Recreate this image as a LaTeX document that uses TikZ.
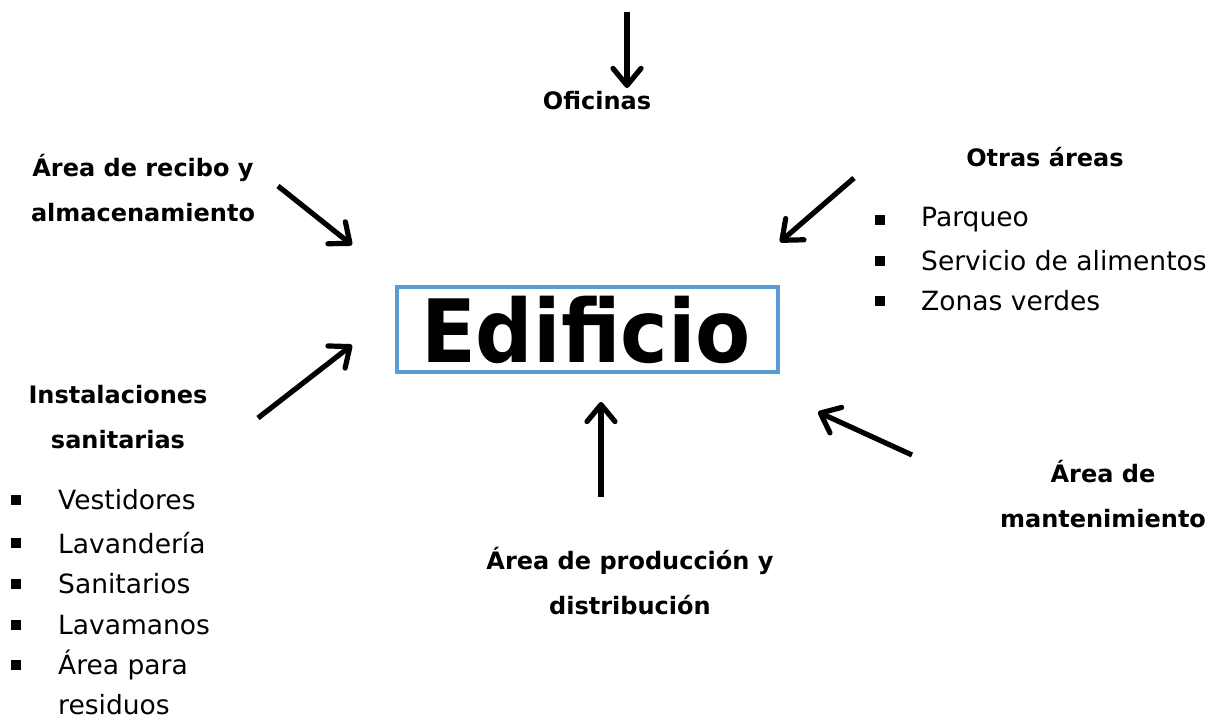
\documentclass[tikz,border=0pt]{standalone}
\usepackage{fontspec}
\setmainfont{DejaVu Sans}
\usetikzlibrary{arrows.meta}
\definecolor{boxblue}{RGB}{91,155,213}
\tikzset{
  conn/.style={line width=5.2pt, line cap=butt, -{Straight Barb[length=17pt,width=28pt,line width=5.2pt,round]}},
  head/.style={font=\fontsize{24}{45}\selectfont\bfseries, align=center, inner sep=0pt},
  item/.style={font=\fontsize{26.5}{30}\selectfont, anchor=west, inner sep=0pt},
  bul/.style={fill=black, minimum size=9.5pt, inner sep=0pt},
}
\begin{document}
\begin{tikzpicture}[x=1pt,y=-1pt]
\useasboundingbox (0,0) rectangle (1227,719);
% central box
\node[draw=boxblue, line width=3.5pt, minimum width=381pt, minimum height=85pt, inner sep=0pt] (ed) at (587.5,329.5) {};
\node[inner sep=0pt] (edt) at (586,330) {\scalebox{1.03}[1.12]{\fontsize{78}{80}\selectfont\bfseries Edificio}};
% labels
\node[head] (ofi) at (597,101) {Oficinas};
\node[head] (rec) at (143,188) {Área de recibo y\\almacenamiento};
\node[head] (otr) at (1045,157) {Otras áreas};
\node[head] (ins) at (118,417) {Instalaciones\\sanitarias};
\node[head] (pro) at (630,581) {Área de producción y\\distribución};
\node[head] (man) at (1103,494) {Área de\\mantenimiento};
% list right
\node[bul] (b1) at (880,220) {};
\node[item] (t1) at (921,220) {Parqueo};
\node[bul] (b2) at (880,261) {};
\node[item] (t2) at (921,261) {Servicio de alimentos};
\node[bul] (b3) at (880,301) {};
\node[item] (t3) at (921,301) {Zonas verdes};
% list left
\node[bul] (l1) at (16,500) {};
\node[item] (u1) at (58,500) {Vestidores};
\node[bul] (l2) at (16,543) {};
\node[item] (u2) at (58,543) {Lavandería};
\node[bul] (l3) at (16,584) {};
\node[item] (u3) at (58,584) {Sanitarios};
\node[bul] (l4) at (16,625) {};
\node[item] (u4) at (58,625) {Lavamanos};
\node[bul] (l5) at (16,665) {};
\node[item] (u5) at (58,665) {Área para};
\node[item] (u6) at (58,705) {residuos};
% arrow coordinates
\coordinate (a1s) at (627,12);  \coordinate (a1e) at (627,88);
\coordinate (a2s) at (278,186); \coordinate (a2e) at (352,245);
\coordinate (a3s) at (854,178); \coordinate (a3e) at (780,242);
\coordinate (a4s) at (258,418); \coordinate (a4e) at (352,345);
\coordinate (a5s) at (601,497); \coordinate (a5e) at (601,402);
\coordinate (a6s) at (912,455); \coordinate (a6e) at (818,412);
\draw[conn] (a1s) -- (a1e);
\draw[conn] (a2s) -- (a2e);
\draw[conn] (a3s) -- (a3e);
\draw[conn] (a4s) -- (a4e);
\draw[conn] (a5s) -- (a5e);
\draw[conn] (a6s) -- (a6e);
\end{tikzpicture}
\end{document}
